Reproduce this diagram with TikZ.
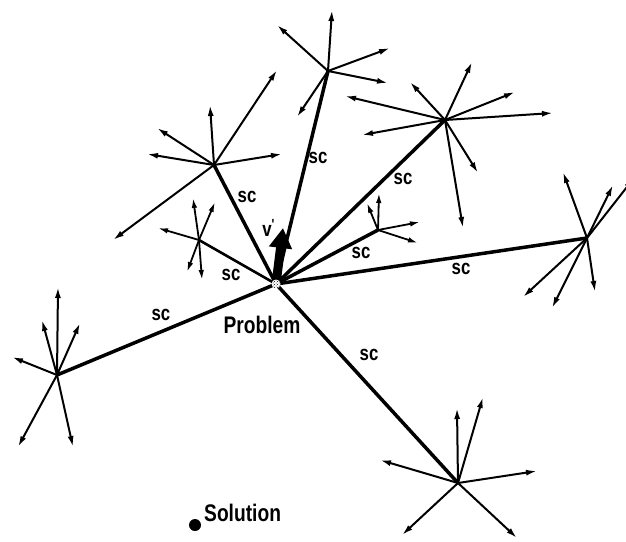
\documentclass[tikz,border=0pt]{standalone}
\usepackage{fontspec}
\newfontfamily\lab{Liberation Sans}[FakeStretch=0.8]
\usetikzlibrary{arrows.meta,patterns}
\begin{document}
\begin{tikzpicture}[x=1pt,y=-1pt,
  main/.style={line width=3.5pt},
  arr/.style={line width=2pt,-{Latex[length=11pt,width=6pt]}},
  sarr/.style={line width=1.8pt,-{Latex[length=10pt,width=5.5pt]}},
  sclab/.style={font=\lab\bfseries\fontsize{21}{21}\selectfont, inner sep=0pt},
  biglab/.style={font=\lab\bfseries\fontsize{24}{24}\selectfont, inner sep=0pt}]
\useasboundingbox (0,0) rectangle (626,541);
% hubs
\coordinate (P) at (276,284);
\coordinate (L) at (57,375);
\coordinate (UL) at (214,165);
\coordinate (T) at (328,71);
\coordinate (UR) at (445,120);
\coordinate (R) at (587,238);
\coordinate (BR) at (458,483);
\coordinate (S1) at (199,240);
\coordinate (S2) at (378,230);
% arrows at hubs
\foreach \x/\y [count=\i] in {58/287,42/320,80/323,12/357,18/447,73/447}
  {\coordinate (L-\i) at (\x,\y); \draw[arr] (L) -- (L-\i);}
\foreach \x/\y [count=\i] in {210/105,157/128,147/154,282/154,113/240,277/70}
  {\coordinate (UL-\i) at (\x,\y); \draw[arr] (UL) -- (UL-\i);}
\foreach \x/\y [count=\i] in {332/10,277/25,390/48,388/83,297/117}
  {\coordinate (T-\i) at (\x,\y); \draw[arr] (T) -- (T-\i);}
\foreach \x/\y [count=\i] in {472/62,515/92,553/113,410/82,345/96,362/135,478/173,463/228}
  {\coordinate (UR-\i) at (\x,\y); \draw[arr] (UR) -- (UR-\i);}
\foreach \x/\y [count=\i] in {563/172,613/185,634/178,523/297,552/308,595/292}
  {\coordinate (R-\i) at (\x,\y); \draw[arr] (R) -- (R-\i);}
\foreach \x/\y [count=\i] in {457/408,483/397,380/460,537/471,402/535,517/538}
  {\coordinate (BR-\i) at (\x,\y); \draw[arr] (BR) -- (BR-\i);}
\foreach \x/\y [count=\i] in {193/198,215/202,158/228,187/272,202/280}
  {\coordinate (S1-\i) at (\x,\y); \draw[sarr] (S1) -- (S1-\i);}
\foreach \x/\y [count=\i] in {379/193,367/203,420/222,418/243}
  {\coordinate (S2-\i) at (\x,\y); \draw[sarr] (S2) -- (S2-\i);}
% main connectors
\foreach \h in {L,UL,T,UR,R,BR,S2} \draw[main] (P) -- (\h);
\draw[line width=2.6pt] (P) -- (S1);
% v' arrow
\coordinate (V) at (283,228);
\draw[line width=9pt,-{Triangle[length=20pt,width=22pt]}] (P) -- (V);
\node[sclab] (vlab) at (269,228) {v\textsuperscript{\textquotesingle}};
% centre symbol
\node[circle, minimum size=9pt, inner sep=0pt, preaction={fill=white}, pattern=crosshatch dots] (Pc) at (P) {};
% sc labels
\node[sclab] (sc1) at (161,315) {sc};
\node[sclab] (sc2) at (247,197) {sc};
\node[sclab] (sc3) at (318,158) {sc};
\node[sclab] (sc4) at (403,179) {sc};
\node[sclab] (sc5) at (361,253) {sc};
\node[sclab] (sc6) at (231,275) {sc};
\node[sclab] (sc7) at (461,269) {sc};
\node[sclab] (sc8) at (369,355) {sc};
% labels
\node[biglab] (prob) at (262,325) {Problem};
\fill (195,525) circle (6pt) coordinate (sol);
\node[biglab, anchor=west] (solab) at (204,513) {Solution};
\end{tikzpicture}
\end{document}
